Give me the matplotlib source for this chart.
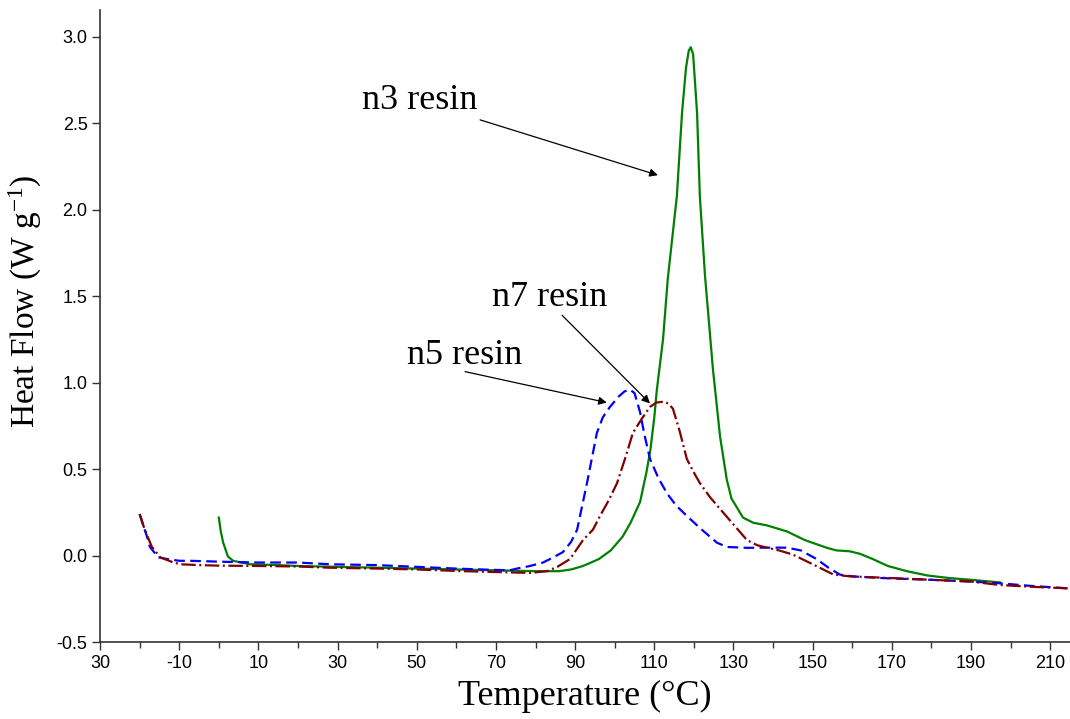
import matplotlib
matplotlib.use("Agg")
import matplotlib.pyplot as plt
from matplotlib.ticker import MultipleLocator

plt.rcParams["mathtext.fontset"] = "custom"
plt.rcParams["mathtext.rm"] = "Liberation Serif"
plt.rcParams["mathtext.it"] = "Liberation Serif:italic"

SERIF = "Liberation Serif"
SANS = "Liberation Sans"

# n3 resin (green, solid)
n3_x = [0, 0.5, 1.1, 2.3, 3.6, 7.9, 15, 20, 30, 40, 50, 60, 70, 80, 86, 89, 92, 96, 99,
        102, 104, 106.4, 108, 109, 110, 110.6, 111.5, 112.2, 113.4, 115.7, 117, 118, 118.7,
        119.2, 119.8, 120.8, 121.5, 122.8, 124.8, 126.6, 128.3, 129.5, 132.4, 135, 138.4,
        143.5, 148, 153.6, 156, 159.4, 162, 165.2, 169, 173.8, 179, 184.6, 190, 197.3]
n3_y = [0.22, 0.14, 0.075, -0.005, -0.03, -0.05, -0.055, -0.06, -0.065, -0.07, -0.075,
        -0.08, -0.085, -0.09, -0.09, -0.08, -0.06, -0.02, 0.03, 0.11, 0.19, 0.31, 0.48,
        0.61, 0.8, 0.95, 1.12, 1.25, 1.6, 2.08, 2.56, 2.82, 2.92, 2.94, 2.9, 2.56, 2.08,
        1.62, 1.08, 0.69, 0.44, 0.33, 0.22, 0.19, 0.175, 0.14, 0.09, 0.045, 0.03, 0.025,
        0.01, -0.02, -0.06, -0.09, -0.115, -0.13, -0.14, -0.155]

# n5 resin (blue, dashed)
n5_x = [-20, -19, -18, -17.4, -16, -15.3, -13, -10, -7.3, 0, 10, 20, 28, 40, 50, 60, 66,
        73.5, 75.3, 78.6, 81.9, 84.5, 86.9, 89, 90.5, 93, 95.5, 97, 98.8, 101, 102.5, 103.8,
        105, 106.4, 107.5, 108.9, 111, 113.2, 115.5, 118.2, 121.5, 125.8, 128.3, 133.4,
        138.4, 143.5, 147, 151, 154, 156.9, 160, 167.7, 180, 190, 197.3, 205, 215]
n5_y = [0.24, 0.17, 0.1, 0.05, 0.01, -0.01, -0.02, -0.03, -0.03, -0.035, -0.04, -0.04,
        -0.05, -0.055, -0.065, -0.075, -0.08, -0.085, -0.075, -0.06, -0.04, -0.01, 0.02,
        0.08, 0.15, 0.42, 0.71, 0.8, 0.86, 0.92, 0.95, 0.96, 0.94, 0.83, 0.7, 0.56, 0.45,
        0.36, 0.29, 0.23, 0.16, 0.075, 0.05, 0.045, 0.046, 0.046, 0.03, -0.02, -0.07,
        -0.11, -0.12, -0.13, -0.14, -0.15, -0.16, -0.175, -0.19]

# n7 resin (dark red, dash-dot)
n7_x = [-20, -19, -18, -16.9, -14.8, -12, -9.8, -4.7, 0, 10, 20, 28, 40, 50, 61.7, 70,
        78.6, 82.9, 85.5, 88.7, 92, 94.5, 96.3, 98.5, 100.6, 102.6, 104.6, 106.8, 108.9,
        110.5, 112.2, 113.5, 114.7, 116.4, 118.2, 120, 121.5, 124, 126.6, 130, 133.4, 136,
        138.4, 141.5, 145, 150, 155.3, 159.4, 170, 180, 190, 197.3, 205, 215]
n7_y = [0.24, 0.17, 0.11, 0.05, -0.01, -0.035, -0.05, -0.055, -0.058, -0.06, -0.063,
        -0.07, -0.075, -0.08, -0.09, -0.095, -0.1, -0.09, -0.065, -0.02, 0.09, 0.15, 0.23,
        0.32, 0.42, 0.56, 0.71, 0.79, 0.86, 0.885, 0.89, 0.88, 0.85, 0.72, 0.56, 0.48,
        0.42, 0.34, 0.27, 0.18, 0.09, 0.06, 0.046, 0.03, 0.006, -0.05, -0.11, -0.12,
        -0.13, -0.14, -0.15, -0.17, -0.18, -0.19]

x_ticks = [-30, -10, 10, 30, 50, 70, 90, 110, 130, 150, 170, 190, 210]
x_tick_labels = ["30", "-10", "10", "30", "50", "70", "90", "110", "130", "150", "170", "190", "210"]
y_ticks = [-0.5, 0.0, 0.5, 1.0, 1.5, 2.0, 2.5, 3.0]

fig = plt.figure(figsize=(10.7, 7.19), dpi=100)
ax = fig.add_axes([0.0935, 0.107, 0.9065, 0.879])

ax.plot(n3_x, n3_y, color="#008000", lw=1.6)
ax.plot(n5_x, n5_y, color="#0000ff", lw=1.6, dashes=[4.8, 2.4])
ax.plot(n7_x, n7_y, color="#800000", lw=1.6, dashes=[6.5, 1.6, 0.9, 1.6])

ax.set_xlim(-30, 215)
ax.set_ylim(-0.5, 3.155)
ax.set_xticks(x_ticks)
ax.set_xticklabels(x_tick_labels)
ax.xaxis.set_minor_locator(MultipleLocator(10))
ax.set_yticks(y_ticks)
ax.set_yticklabels([f"{v:.1f}" for v in y_ticks])

for side in ["top", "right"]:
    ax.spines[side].set_visible(False)
for side in ["left", "bottom"]:
    ax.spines[side].set_color("#333333")
    ax.spines[side].set_linewidth(1.2)

ax.tick_params(axis="both", which="major", direction="out", length=6, width=1.0,
               color="#333333", labelsize=13, pad=3)
ax.tick_params(axis="x", which="minor", direction="out", length=4, width=1.0, color="#333333")
for lbl in ax.get_xticklabels() + ax.get_yticklabels():
    lbl.set_fontfamily(SANS)

ax.set_xlabel("Temperature (°C)", fontfamily=SERIF, fontsize=26, labelpad=6)
ax.set_ylabel("Heat Flow (W g$^{-1}$)", fontfamily=SERIF, fontsize=24)
ax.yaxis.set_label_coords(-0.058, 0.54)

arrow = dict(arrowstyle="-|>", color="black", lw=0.9, mutation_scale=12, shrinkA=0, shrinkB=0)
ax.text(50.8, 2.63, "n3 resin", fontfamily=SERIF, fontsize=26, ha="center", va="center")
ax.annotate("", xy=(110.9, 2.2), xytext=(66, 2.52), arrowprops=arrow)
ax.text(83.6, 1.49, "n7 resin", fontfamily=SERIF, fontsize=26, ha="center", va="center")
ax.annotate("", xy=(108.9, 0.88), xytext=(86.7, 1.39), arrowprops=arrow)
ax.text(62.2, 1.16, "n5 resin", fontfamily=SERIF, fontsize=26, ha="center", va="center")
ax.annotate("", xy=(98, 0.885), xytext=(62.2, 1.064), arrowprops=arrow)

fig.savefig("out.png", dpi=100, facecolor="white")
